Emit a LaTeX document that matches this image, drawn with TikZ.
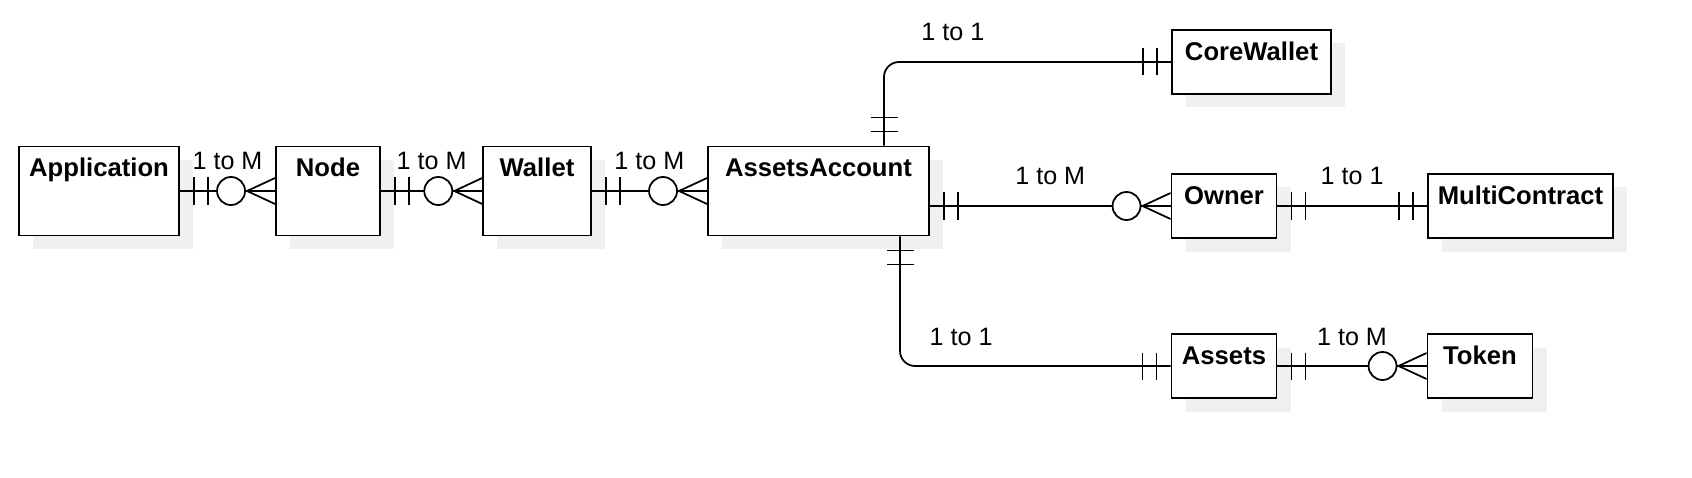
\documentclass[tikz,border=0pt]{standalone}
\usepackage{fontspec}
\setmainfont{Liberation Sans}
\usetikzlibrary{shadows}

\tikzset{
    onemark/.pic={
        \draw[line width=1pt] (-0.28,-0.27) -- (-0.28,0.27) (-0.56,-0.27) -- (-0.56,0.27);
    },
    manymark/.pic={
        \draw[line width=1pt] (0,0.26) -- (-0.56,0) -- (0,-0.26);
        \draw[line width=1pt, fill=white] (-0.88,0) circle (0.28);
    }
}

\begin{document}
\begin{tikzpicture}[
    entity/.style={draw, line width=1.1pt, fill=white, inner sep=0pt,
        font=\fontsize{14.6}{17}\selectfont\bfseries, text height=0.61cm,
        drop shadow={shadow xshift=0.28cm, shadow yshift=-0.27cm, fill=black!6, opacity=1}},
    tall/.style={entity, text depth=1.17cm},
    short/.style={entity, text depth=0.67cm},
    link/.style={line width=1pt},
    lbl/.style={midway, anchor=base, yshift=0.42cm, font=\fontsize{14.3}{17}\selectfont}
]
    \useasboundingbox (0,0) rectangle (33.84,-9.56);

    % Nodes
    \node[tall, minimum width=3.2cm] (app) at (1.98,-3.82) {Application};
    \node[tall, minimum width=2.08cm] (nd) at (6.56,-3.82) {Node};
    \node[tall, minimum width=2.15cm] (wlt) at (10.74,-3.82) {Wallet};
    \node[tall, minimum width=4.42cm] (acct) at (16.37,-3.82) {AssetsAccount};
    \node[short, minimum width=3.18cm] (core) at (25.03,-1.24) {CoreWallet};
    \node[short, minimum width=2.1cm] (owner) at (24.48,-4.12) {Owner};
    \node[short, minimum width=3.71cm] (multi) at (30.41,-4.12) {MultiContract};
    \node[short, minimum width=2.1cm] (assets) at (24.48,-7.32) {Assets};
    \node[short, minimum width=2.1cm] (token) at (29.6,-7.32) {Token};

    % Connectors
    \draw[link] (app) -- node[lbl] {1 to M} (nd);
    \draw[link] (nd) -- node[lbl] {1 to M} (wlt);
    \draw[link] (wlt) -- node[lbl] {1 to M} (acct);
    \draw[link, rounded corners=0.3cm] ([xshift=1.31cm]acct.north) |- node[lbl, pos=0.62] {1 to 1} (core.west);
    \draw[link] (acct.east |- owner.west) -- node[lbl] {1 to M} (owner.west);
    \draw[link] (owner) -- node[lbl] {1 to 1} (multi);
    \draw[link, rounded corners=0.3cm] ([xshift=1.63cm]acct.south) |- node[lbl, pos=0.613] {1 to 1} (assets.west);
    \draw[link] (assets) -- node[lbl] {1 to M} (token);

    % Ends
    \pic[rotate=180] at (app.east) {onemark};
    \pic at (nd.west) {manymark};
    \pic[rotate=180] at (nd.east) {onemark};
    \pic at (wlt.west) {manymark};
    \pic[rotate=180] at (wlt.east) {onemark};
    \pic at (acct.west) {manymark};
    \pic[rotate=-90] at ([xshift=1.31cm]acct.north) {onemark};
    \pic at (core.west) {onemark};
    \pic[rotate=180] at (acct.east |- owner.west) {onemark};
    \pic at (owner.west) {manymark};
    \pic[rotate=180] at (owner.east) {onemark};
    \pic at (multi.west) {onemark};
    \pic[rotate=90] at ([xshift=1.63cm]acct.south) {onemark};
    \pic at (assets.west) {onemark};
    \pic[rotate=180] at (assets.east) {onemark};
    \pic at (token.west) {manymark};
\end{tikzpicture}
\end{document}
